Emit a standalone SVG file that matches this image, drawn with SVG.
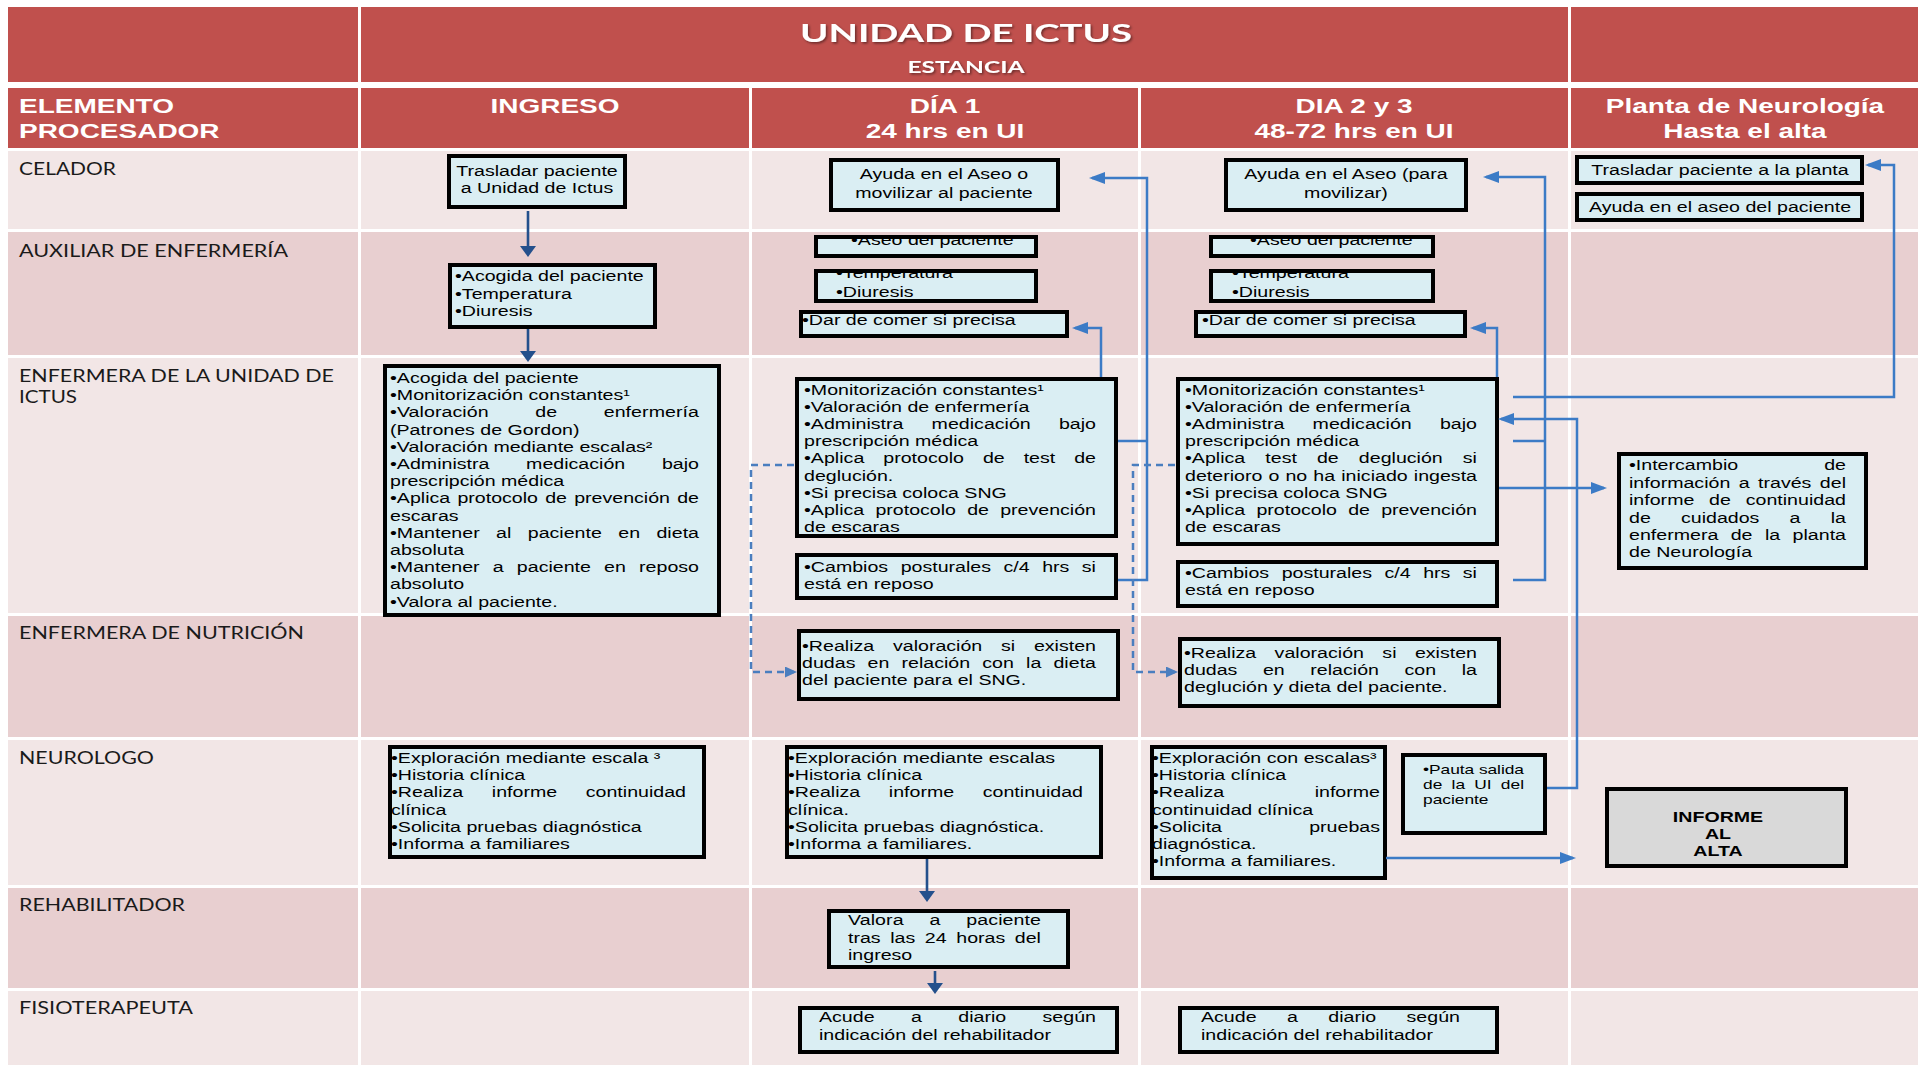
<svg xmlns="http://www.w3.org/2000/svg" width="1925" height="1065" viewBox="0 0 1925 1065">
<defs>
<style>
.hdr{fill:#C0504D}
.rl{fill:#F2E6E6}
.rd{fill:#E8CFD0}
.bg{fill:#DAEEF3}
.gy{fill:#D9D9D9}
.fr{fill:none;stroke:#000;stroke-width:4}
.b{font-family:"Liberation Sans",Arial,sans-serif;font-size:14.7px;fill:#000}
.s{font-size:13px}
.c{text-anchor:middle}
.bold{font-weight:bold}
.hd{font-family:"Liberation Sans",Arial,sans-serif;font-weight:bold;font-size:21px;fill:#fff}
.ttl{font-family:Lato,"Liberation Sans",sans-serif;font-weight:bold;font-size:25.5px;fill:#fff}
.sub{font-family:Lato,"Liberation Sans",sans-serif;font-weight:bold;font-size:16.3px;fill:#fff}
.lb{font-family:Lato,"Open Sans",sans-serif;font-size:17.5px;fill:#1a1a1a}
.cn{fill:none;stroke:#3C7BC6;stroke-width:2.5}
.dk{fill:none;stroke:#24508C;stroke-width:2.6}
.ds{fill:none;stroke:#4A7EBF;stroke-width:2.5;stroke-dasharray:7 5}
</style>
<marker id="ah-blue" viewBox="0 0 16 12" markerWidth="16" markerHeight="12" refX="13" refY="6" orient="auto" markerUnits="userSpaceOnUse"><path d="M0,0 L16,6 L0,12 z" fill="#3C7BC6"/></marker>
<marker id="ah-dark" viewBox="0 0 11 16" markerWidth="11" markerHeight="16" refX="8" refY="8" orient="auto" markerUnits="userSpaceOnUse"><path d="M0,0 L11,8 L0,16 z" fill="#24508C"/></marker>
<marker id="ah-dash" viewBox="0 0 12 11" markerWidth="12" markerHeight="11" refX="9" refY="5.5" orient="auto" markerUnits="userSpaceOnUse"><path d="M0,0 L12,5.5 L0,11 z" fill="#4A7EBF"/></marker>
<filter id="shadow" x="-10%" y="-30%" width="120%" height="160%"><feDropShadow dx="1.5" dy="1.5" stdDeviation="1" flood-color="#000" flood-opacity="0.45"/></filter>
<clipPath id="c-aseo-d1"><rect x="816" y="237" width="220" height="19"/></clipPath>
<clipPath id="c-temp-d1"><rect x="816" y="271" width="220" height="30"/></clipPath>
<clipPath id="c-aseo-d2"><rect x="1211" y="237" width="222" height="19"/></clipPath>
<clipPath id="c-temp-d2"><rect x="1211" y="271" width="222" height="30"/></clipPath>
</defs>

<rect width="1925" height="1065" fill="#fff"/>

<!-- table grid -->
<g id="table">
<rect class="hdr" x="8" y="7" width="350" height="75"/>
<rect class="hdr" x="361" y="7" width="1207" height="75"/>
<rect class="hdr" x="1571" y="7" width="347" height="75"/>
<rect class="hdr" x="8" y="88" width="350" height="60"/>
<rect class="hdr" x="361" y="88" width="388" height="60"/>
<rect class="hdr" x="752" y="88" width="386" height="60"/>
<rect class="hdr" x="1141" y="88" width="427" height="60"/>
<rect class="hdr" x="1571" y="88" width="347" height="60"/>
<g class="rl">
<rect x="8" y="151" width="350" height="78"/><rect x="361" y="151" width="388" height="78"/><rect x="752" y="151" width="386" height="78"/><rect x="1141" y="151" width="427" height="78"/><rect x="1571" y="151" width="347" height="78"/>
<rect x="8" y="358" width="350" height="255"/><rect x="361" y="358" width="388" height="255"/><rect x="752" y="358" width="386" height="255"/><rect x="1141" y="358" width="427" height="255"/><rect x="1571" y="358" width="347" height="255"/>
<rect x="8" y="740" width="350" height="145"/><rect x="361" y="740" width="388" height="145"/><rect x="752" y="740" width="386" height="145"/><rect x="1141" y="740" width="427" height="145"/><rect x="1571" y="740" width="347" height="145"/>
<rect x="8" y="991" width="350" height="74"/><rect x="361" y="991" width="388" height="74"/><rect x="752" y="991" width="386" height="74"/><rect x="1141" y="991" width="427" height="74"/><rect x="1571" y="991" width="347" height="74"/>
</g>
<g class="rd">
<rect x="8" y="232" width="350" height="123"/><rect x="361" y="232" width="388" height="123"/><rect x="752" y="232" width="386" height="123"/><rect x="1141" y="232" width="427" height="123"/><rect x="1571" y="232" width="347" height="123"/>
<rect x="8" y="616" width="350" height="121"/><rect x="361" y="616" width="388" height="121"/><rect x="752" y="616" width="386" height="121"/><rect x="1141" y="616" width="427" height="121"/><rect x="1571" y="616" width="347" height="121"/>
<rect x="8" y="888" width="350" height="100"/><rect x="361" y="888" width="388" height="100"/><rect x="752" y="888" width="386" height="100"/><rect x="1141" y="888" width="427" height="100"/><rect x="1571" y="888" width="347" height="100"/>
</g>
</g>

<!-- title and column headers -->
<g id="title" filter="url(#shadow)">
<g transform="translate(966 0) scale(1.3333 1)">
<text class="ttl c" y="42" textLength="249" lengthAdjust="spacingAndGlyphs">UNIDAD DE ICTUS</text>
<text class="sub c" y="73" textLength="87.75" lengthAdjust="spacingAndGlyphs">ESTANCIA</text>
</g>
</g>
<g id="headers">
<g transform="translate(19 0) scale(1.3333 1)"><text class="hd" y="113">ELEMENTO</text><text class="hd" y="138">PROCESADOR</text></g>
<g transform="translate(555 0) scale(1.3333 1)"><text class="hd c" y="113">INGRESO</text></g>
<g transform="translate(945 0) scale(1.3333 1)"><text class="hd c" y="113">DÍA 1</text><text class="hd c" y="138">24 hrs en UI</text></g>
<g transform="translate(1354 0) scale(1.3333 1)"><text class="hd c" y="113">DIA 2 y 3</text><text class="hd c" y="138">48-72 hrs en UI</text></g>
<g transform="translate(1745 0) scale(1.3333 1)"><text class="hd c" y="113">Planta de Neurología</text><text class="hd c" y="138">Hasta el alta</text></g>
</g>

<!-- swimlane labels -->
<g id="lanes" transform="translate(19 0) scale(1.3333 1)">
<text class="lb" y="175" textLength="72.75" lengthAdjust="spacingAndGlyphs">CELADOR</text>
<text class="lb" y="257" textLength="201.75" lengthAdjust="spacingAndGlyphs">AUXILIAR DE ENFERMERÍA</text>
<text class="lb" y="382" textLength="236.25" lengthAdjust="spacingAndGlyphs">ENFERMERA DE LA UNIDAD DE</text>
<text class="lb" y="403" textLength="43.5" lengthAdjust="spacingAndGlyphs">ICTUS</text>
<text class="lb" y="639" textLength="213.75" lengthAdjust="spacingAndGlyphs">ENFERMERA DE NUTRICIÓN</text>
<text class="lb" y="764" textLength="101.25" lengthAdjust="spacingAndGlyphs">NEUROLOGO</text>
<text class="lb" y="911" textLength="124.5" lengthAdjust="spacingAndGlyphs">REHABILITADOR</text>
<text class="lb" y="1014" textLength="130.5" lengthAdjust="spacingAndGlyphs">FISIOTERAPEUTA</text>
</g>

<!-- nodes -->
<g id="nodes">
<g id="celador-ingreso">
<rect class="bg" x="449" y="156" width="176" height="51"/>
<g transform="translate(537 0) scale(1.3333 1)"><text class="b c" y="176">Trasladar paciente</text><text class="b c" y="193">a Unidad de Ictus</text></g>
<rect class="fr" x="449" y="156" width="176" height="51"/>
</g>
<g id="auxiliar-ingreso">
<rect class="bg" x="450" y="265" width="205" height="62"/>
<g transform="translate(455 0) scale(1.3333 1)"><text class="b" y="281">•Acogida del paciente</text><text class="b" y="299">•Temperatura</text><text class="b" y="316">•Diuresis</text></g>
<rect class="fr" x="450" y="265" width="205" height="62"/>
</g>
<g id="enfermera-ingreso">
<rect class="bg" x="385" y="366" width="334" height="249"/>
<g transform="translate(390 0) scale(1.3333 1)">
<text class="b" y="383">•Acogida del paciente</text>
<text class="b" y="400.2">•Monitorización constantes¹</text>
<text class="b" y="417.4" word-spacing="30.8" textLength="231.75" lengthAdjust="spacing">•Valoración de enfermería</text>
<text class="b" y="434.6">(Patrones de Gordon)</text>
<text class="b" y="451.8">•Valoración mediante escalas²</text>
<text class="b" y="469" word-spacing="23.4" textLength="231.75" lengthAdjust="spacing">•Administra medicación bajo</text>
<text class="b" y="486.2">prescripción médica</text>
<text class="b" y="503.4" word-spacing="1.3" textLength="231.75" lengthAdjust="spacing">•Aplica protocolo de prevención de</text>
<text class="b" y="520.6">escaras</text>
<text class="b" y="537.8" word-spacing="8.2" textLength="231.75" lengthAdjust="spacing">•Mantener al paciente en dieta</text>
<text class="b" y="555">absoluta</text>
<text class="b" y="572.2" word-spacing="5.8" textLength="231.75" lengthAdjust="spacing">•Mantener a paciente en reposo</text>
<text class="b" y="589.4">absoluto</text>
<text class="b" y="606.6">•Valora al paciente.</text>
</g>
<rect class="fr" x="385" y="366" width="334" height="249"/>
</g>
<g id="neurologo-ingreso">
<rect class="bg" x="390" y="747" width="314" height="110"/>
<g transform="translate(391 0) scale(1.3333 1)">
<text class="b" y="763">•Exploración mediante escala ³</text>
<text class="b" y="780">•Historia clínica</text>
<text class="b" y="797" word-spacing="17.4" textLength="221.25" lengthAdjust="spacing">•Realiza informe continuidad</text>
<text class="b" y="815">clínica</text>
<text class="b" y="832">•Solicita pruebas diagnóstica</text>
<text class="b" y="849">•Informa a familiares</text>
</g>
<rect class="fr" x="390" y="747" width="314" height="110"/>
</g>

<g id="celador-dia1">
<rect class="bg" x="831" y="160" width="227" height="50"/>
<g transform="translate(944 0) scale(1.3333 1)"><text class="b c" y="179">Ayuda en el Aseo o</text><text class="b c" y="198">movilizar al paciente</text></g>
<rect class="fr" x="831" y="160" width="227" height="50"/>
</g>
<g id="aseo-dia1">
<rect class="bg" x="816" y="237" width="220" height="19"/>
<g clip-path="url(#c-aseo-d1)"><g transform="translate(851 0) scale(1.3333 1)"><text class="b" y="245">•Aseo del paciente</text></g></g>
<rect class="fr" x="816" y="237" width="220" height="19"/>
</g>
<g id="constantes-dia1">
<rect class="bg" x="816" y="271" width="220" height="30"/>
<g clip-path="url(#c-temp-d1)"><g transform="translate(836 0) scale(1.3333 1)"><text class="b" y="278">•Temperatura</text><text class="b" y="297">•Diuresis</text></g></g>
<rect class="fr" x="816" y="271" width="220" height="30"/>
</g>
<g id="comer-dia1">
<rect class="bg" x="801" y="312" width="266" height="24"/>
<g transform="translate(802 0) scale(1.3333 1)"><text class="b" y="325">•Dar de comer si precisa</text></g>
<rect class="fr" x="801" y="312" width="266" height="24"/>
</g>
<g id="enfermera-dia1">
<rect class="bg" x="797" y="379" width="319" height="157"/>
<g transform="translate(804 0) scale(1.3333 1)">
<text class="b" y="395">•Monitorización constantes¹</text>
<text class="b" y="412.1">•Valoración de enfermería</text>
<text class="b" y="429.2" word-spacing="17" textLength="219" lengthAdjust="spacing">•Administra medicación bajo</text>
<text class="b" y="446.3">prescripción médica</text>
<text class="b" y="463.4" word-spacing="10.1" textLength="219" lengthAdjust="spacing">•Aplica protocolo de test de</text>
<text class="b" y="480.5">deglución.</text>
<text class="b" y="497.6">•Si precisa coloca SNG</text>
<text class="b" y="514.7" word-spacing="4.3" textLength="219" lengthAdjust="spacing">•Aplica protocolo de prevención</text>
<text class="b" y="531.8">de escaras</text>
</g>
<rect class="fr" x="797" y="379" width="319" height="157"/>
</g>
<g id="cambios-dia1">
<rect class="bg" x="797" y="555" width="319" height="43"/>
<g transform="translate(804 0) scale(1.3333 1)">
<text class="b" y="572" word-spacing="5.3" textLength="219" lengthAdjust="spacing">•Cambios posturales c/4 hrs si</text>
<text class="b" y="589">está en reposo</text>
</g>
<rect class="fr" x="797" y="555" width="319" height="43"/>
</g>
<g id="nutricion-dia1">
<rect class="bg" x="799" y="631" width="319" height="68"/>
<g transform="translate(802 0) scale(1.3333 1)">
<text class="b" y="651" word-spacing="10" textLength="220.5" lengthAdjust="spacing">•Realiza valoración si existen</text>
<text class="b" y="668" word-spacing="5" textLength="220.5" lengthAdjust="spacing">dudas en relación con la dieta</text>
<text class="b" y="685">del paciente para el SNG.</text>
</g>
<rect class="fr" x="799" y="631" width="319" height="68"/>
</g>
<g id="neurologo-dia1">
<rect class="bg" x="787" y="747" width="314" height="110"/>
<g transform="translate(788 0) scale(1.3333 1)">
<text class="b" y="763">•Exploración mediante escalas</text>
<text class="b" y="780">•Historia clínica</text>
<text class="b" y="797" word-spacing="17.4" textLength="221.25" lengthAdjust="spacing">•Realiza informe continuidad</text>
<text class="b" y="815">clínica.</text>
<text class="b" y="832">•Solicita pruebas diagnóstica.</text>
<text class="b" y="849">•Informa a familiares.</text>
</g>
<rect class="fr" x="787" y="747" width="314" height="110"/>
</g>
<g id="rehabilitador-dia1">
<rect class="bg" x="829" y="911" width="239" height="56"/>
<g transform="translate(848 0) scale(1.3333 1)">
<text class="b" y="925" word-spacing="15.2" textLength="144.75" lengthAdjust="spacing">Valora a paciente</text>
<text class="b" y="943" word-spacing="3.1" textLength="144.75" lengthAdjust="spacing">tras las 24 horas del</text>
<text class="b" y="960">ingreso</text>
</g>
<rect class="fr" x="829" y="911" width="239" height="56"/>
</g>
<g id="fisioterapeuta-dia1">
<rect class="bg" x="800" y="1008" width="317" height="44"/>
<g transform="translate(819 0) scale(1.3333 1)">
<text class="b" y="1022" word-spacing="23.2" textLength="207.75" lengthAdjust="spacing">Acude a diario según</text>
<text class="b" y="1040">indicación del rehabilitador</text>
</g>
<rect class="fr" x="800" y="1008" width="317" height="44"/>
</g>

<g id="celador-dia2">
<rect class="bg" x="1226" y="160" width="240" height="50"/>
<g transform="translate(1346 0) scale(1.3333 1)"><text class="b c" y="179">Ayuda en el Aseo (para</text><text class="b c" y="198">movilizar)</text></g>
<rect class="fr" x="1226" y="160" width="240" height="50"/>
</g>
<g id="aseo-dia2">
<rect class="bg" x="1211" y="237" width="222" height="19"/>
<g clip-path="url(#c-aseo-d2)"><g transform="translate(1250 0) scale(1.3333 1)"><text class="b" y="245">•Aseo del paciente</text></g></g>
<rect class="fr" x="1211" y="237" width="222" height="19"/>
</g>
<g id="constantes-dia2">
<rect class="bg" x="1211" y="271" width="222" height="30"/>
<g clip-path="url(#c-temp-d2)"><g transform="translate(1232 0) scale(1.3333 1)"><text class="b" y="278">•Temperatura</text><text class="b" y="297">•Diuresis</text></g></g>
<rect class="fr" x="1211" y="271" width="222" height="30"/>
</g>
<g id="comer-dia2">
<rect class="bg" x="1196" y="312" width="269" height="24"/>
<g transform="translate(1202 0) scale(1.3333 1)"><text class="b" y="325">•Dar de comer si precisa</text></g>
<rect class="fr" x="1196" y="312" width="269" height="24"/>
</g>
<g id="enfermera-dia2">
<rect class="bg" x="1178" y="379" width="319" height="165"/>
<g transform="translate(1185 0) scale(1.3333 1)">
<text class="b" y="395">•Monitorización constantes¹</text>
<text class="b" y="412.1">•Valoración de enfermería</text>
<text class="b" y="429.2" word-spacing="17" textLength="219" lengthAdjust="spacing">•Administra medicación bajo</text>
<text class="b" y="446.3">prescripción médica</text>
<text class="b" y="463.4" word-spacing="11" textLength="219" lengthAdjust="spacing">•Aplica test de deglución si</text>
<text class="b" y="480.5" word-spacing="0.5" textLength="219" lengthAdjust="spacing">deterioro o no ha iniciado ingesta</text>
<text class="b" y="497.6">•Si precisa coloca SNG</text>
<text class="b" y="514.7" word-spacing="4.3" textLength="219" lengthAdjust="spacing">•Aplica protocolo de prevención</text>
<text class="b" y="531.8">de escaras</text>
</g>
<rect class="fr" x="1178" y="379" width="319" height="165"/>
</g>
<g id="cambios-dia2">
<rect class="bg" x="1178" y="562" width="319" height="44"/>
<g transform="translate(1185 0) scale(1.3333 1)">
<text class="b" y="578" word-spacing="5.3" textLength="219" lengthAdjust="spacing">•Cambios posturales c/4 hrs si</text>
<text class="b" y="595">está en reposo</text>
</g>
<rect class="fr" x="1178" y="562" width="319" height="44"/>
</g>
<g id="nutricion-dia2">
<rect class="bg" x="1180" y="639" width="319" height="67"/>
<g transform="translate(1184 0) scale(1.3333 1)">
<text class="b" y="658" word-spacing="9.7" textLength="219.75" lengthAdjust="spacing">•Realiza valoración si existen</text>
<text class="b" y="675" word-spacing="15.1" textLength="219.75" lengthAdjust="spacing">dudas en relación con la</text>
<text class="b" y="692">deglución y dieta del paciente.</text>
</g>
<rect class="fr" x="1180" y="639" width="319" height="67"/>
</g>
<g id="neurologo-dia2">
<rect class="bg" x="1152" y="747" width="233" height="131"/>
<g transform="translate(1152 0) scale(1.3333 1)">
<text class="b" y="763">•Exploración con escalas³</text>
<text class="b" y="780">•Historia clínica</text>
<text class="b" y="797" word-spacing="63.7" textLength="171" lengthAdjust="spacing">•Realiza informe</text>
<text class="b" y="815">continuidad clínica</text>
<text class="b" y="832" word-spacing="61.3" textLength="171" lengthAdjust="spacing">•Solicita pruebas</text>
<text class="b" y="849">diagnóstica.</text>
<text class="b" y="866">•Informa a familiares.</text>
</g>
<rect class="fr" x="1152" y="747" width="233" height="131"/>
</g>
<g id="pauta-salida">
<rect class="bg" x="1403" y="755" width="142" height="78"/>
<g transform="translate(1423 0) scale(1.3333 1)">
<text class="b s" y="774" textLength="75.75" lengthAdjust="spacing">•Pauta salida</text>
<text class="b s" y="789" word-spacing="3.3" textLength="75.75" lengthAdjust="spacing">de la UI del</text>
<text class="b s" y="804">paciente</text>
</g>
<rect class="fr" x="1403" y="755" width="142" height="78"/>
</g>
<g id="fisioterapeuta-dia2">
<rect class="bg" x="1180" y="1008" width="317" height="44"/>
<g transform="translate(1201 0) scale(1.3333 1)">
<text class="b" y="1022" word-spacing="18.7" textLength="194.25" lengthAdjust="spacing">Acude a diario según</text>
<text class="b" y="1040">indicación del rehabilitador</text>
</g>
<rect class="fr" x="1180" y="1008" width="317" height="44"/>
</g>

<g id="traslado-planta">
<rect class="bg" x="1577" y="157" width="285" height="26"/>
<g transform="translate(1720 0) scale(1.3333 1)"><text class="b c" y="175">Trasladar paciente a la planta</text></g>
<rect class="fr" x="1577" y="157" width="285" height="26"/>
</g>
<g id="aseo-planta">
<rect class="bg" x="1577" y="194" width="285" height="26"/>
<g transform="translate(1720 0) scale(1.3333 1)"><text class="b c" y="212">Ayuda en el aseo del paciente</text></g>
<rect class="fr" x="1577" y="194" width="285" height="26"/>
</g>
<g id="intercambio-planta">
<rect class="bg" x="1619" y="454" width="247" height="114"/>
<g transform="translate(1629 0) scale(1.3333 1)">
<text class="b" y="470" word-spacing="60.4" textLength="162.75" lengthAdjust="spacing">•Intercambio de</text>
<text class="b" y="488" word-spacing="2.2" textLength="162.75" lengthAdjust="spacing">información a través del</text>
<text class="b" y="505" word-spacing="7" textLength="162.75" lengthAdjust="spacing">informe de continuidad</text>
<text class="b" y="523" word-spacing="18.6" textLength="162.75" lengthAdjust="spacing">de cuidados a la</text>
<text class="b" y="540" word-spacing="5.2" textLength="162.75" lengthAdjust="spacing">enfermera de la planta</text>
<text class="b" y="557">de Neurología</text>
</g>
<rect class="fr" x="1619" y="454" width="247" height="114"/>
</g>
<g id="informe-alta">
<rect class="gy" x="1607" y="789" width="239" height="77"/>
<g transform="translate(1718 0) scale(1.3333 1)">
<text class="b c bold" y="822">INFORME</text>
<text class="b c bold" y="839">AL</text>
<text class="b c bold" y="856">ALTA</text>
</g>
<rect class="fr" x="1607" y="789" width="239" height="77"/>
</g>
</g>

<!-- connectors -->
<g id="connectors">
<path class="dk" d="M528,211 V254" marker-end="url(#ah-dark)"/>
<path class="dk" d="M528,329 V359" marker-end="url(#ah-dark)"/>
<path class="dk" d="M927,859 V899" marker-end="url(#ah-dark)"/>
<path class="dk" d="M935,971 V991" marker-end="url(#ah-dark)"/>

<path class="cn" d="M1118,580 H1147 V178 H1092" marker-end="url(#ah-blue)"/>
<path class="cn" d="M1118,441 H1147"/>
<path class="cn" d="M1101,377 V328 H1075" marker-end="url(#ah-blue)"/>
<path class="ds" d="M794,465 H751 V672 H794" marker-end="url(#ah-dash)"/>

<path class="ds" d="M1175,465 H1133 V672 H1175" marker-end="url(#ah-dash)"/>
<path class="cn" d="M1497,377 V328 H1473" marker-end="url(#ah-blue)"/>
<path class="cn" d="M1513,580 H1545 V177 H1486" marker-end="url(#ah-blue)"/>
<path class="cn" d="M1513,441 H1545"/>
<path class="cn" d="M1513,397 H1894 V165 H1868" marker-end="url(#ah-blue)"/>
<path class="cn" d="M1547,788 H1577 V419 H1501" marker-end="url(#ah-blue)"/>
<path class="cn" d="M1499,488 H1604" marker-end="url(#ah-blue)"/>
<path class="cn" d="M1386,858 H1573" marker-end="url(#ah-blue)"/>
</g>
</svg>
